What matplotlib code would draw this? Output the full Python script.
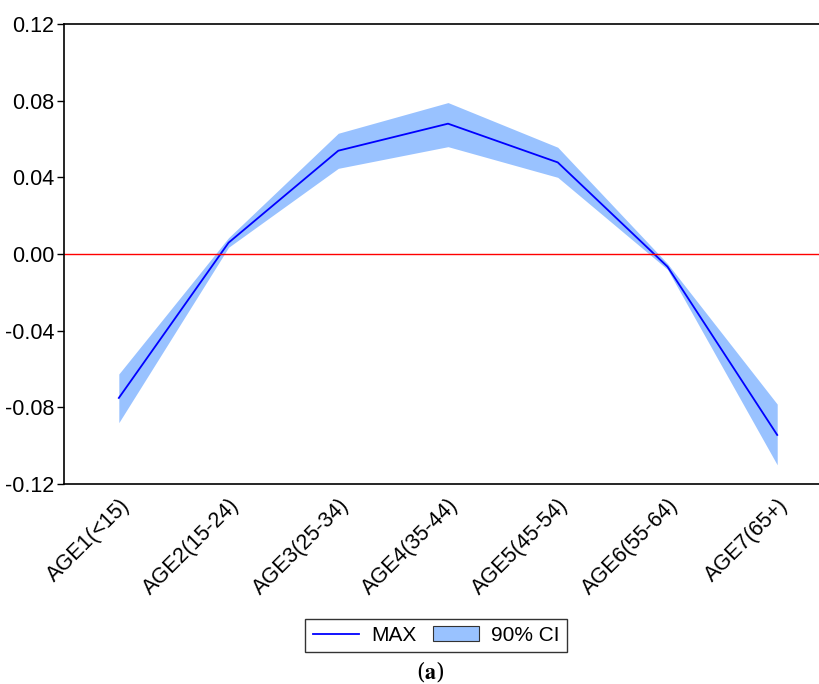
import numpy as np
import matplotlib.pyplot as plt

plt.rcParams['font.family'] = ['Liberation Sans', 'DejaVu Sans']
plt.rcParams['mathtext.fontset'] = 'stix'

categories = ["AGE1(<15)", "AGE2(15-24)", "AGE3(25-34)", "AGE4(35-44)",
              "AGE5(45-54)", "AGE6(55-64)", "AGE7(65+)"]
max_vals = [-0.0751, 0.0059, 0.0539, 0.0680, 0.0478, -0.0066, -0.0944]
ci_upper = [-0.0626, 0.0085, 0.0630, 0.0790, 0.0557, -0.0050, -0.0783]
ci_lower = [-0.0880, 0.0035, 0.0447, 0.0560, 0.0400, -0.0080, -0.1100]
yticks = [-0.12, -0.08, -0.04, 0.00, 0.04, 0.08, 0.12]

fig = plt.figure(figsize=(8.2, 6.84), dpi=100)
ax = fig.add_axes([0.078, 0.2924, 0.922, 0.6725])

x = np.arange(len(categories))
ax.fill_between(x, ci_lower, ci_upper, color="#99c2ff", linewidth=0, label="90% CI")
ax.plot(x, max_vals, color="#0000ff", linewidth=1.3, label="MAX")
ax.axhline(0, color="red", linewidth=1)

ax.set_xlim(-0.5, 6.39)
ax.set_ylim(-0.12, 0.12)
ax.set_yticks(yticks)
ax.set_yticklabels(["%.2f" % v for v in yticks], fontsize=15.5)
ax.set_xticks(x)
ax.set_xticklabels(categories, rotation=45, ha="right", rotation_mode="anchor", fontsize=15.5)
ax.tick_params(axis="x", length=0, pad=8)
ax.tick_params(axis="y", length=5, width=1, direction="out", pad=2)
ax.spines["right"].set_visible(False)
for s in ["left", "top", "bottom"]:
    ax.spines[s].set_linewidth(1.2)

h, l = ax.get_legend_handles_labels()
leg = fig.legend(h[::-1], l[::-1], loc="center", bbox_to_anchor=(0.532, 0.071), ncol=2,
                 fontsize=15, frameon=True, fancybox=False, edgecolor="black",
                 handlelength=2.2, columnspacing=0.8, handletextpad=0.6, borderpad=0.35)
leg.get_frame().set_linewidth(1.0)
for p in leg.get_patches():
    p.set_edgecolor("#333333")
    p.set_linewidth(0.8)

fig.text(0.525, 0.018, r"($\mathbf{a}$)", ha="center", va="center", fontsize=16,
         family="DejaVu Serif")

fig.savefig("out.png", dpi=100)
